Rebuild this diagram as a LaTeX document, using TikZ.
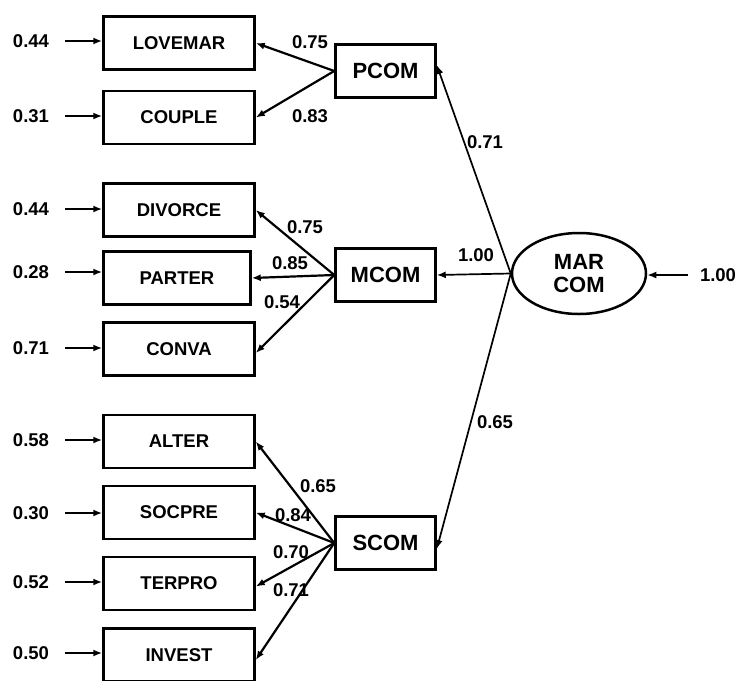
\documentclass[tikz,border=0pt]{standalone}
\usepackage{fontspec}
\setmainfont{Liberation Sans}
\usetikzlibrary{arrows.meta,shapes.geometric}
\begin{document}
\begin{tikzpicture}[x=1pt,y=-1pt,
  ind/.style={draw, line width=2.5pt, minimum width=151pt, minimum height=53pt, font=\fontsize{18.5}{20}\selectfont\bfseries, inner sep=0},
  lat/.style={draw, line width=2.5pt, minimum width=100pt, minimum height=53pt, font=\fontsize{22}{24}\selectfont\bfseries, inner sep=0},
  num/.style={font=\fontsize{18.5}{20}\selectfont\bfseries, inner sep=0},
  arr/.style={-{Latex[length=9pt,width=7pt]}, line width=2.2pt},
  arrthin/.style={-{Latex[length=9pt,width=7pt]}, line width=1.7pt}]
\useasboundingbox (0,0) rectangle (738,680);

% indicator boxes
\node[ind] (LOVEMAR) at (179,43) {LOVEMAR};
\node[ind] (COUPLE) at (179,117.5) {COUPLE};
\node[ind] (DIVORCE) at (179,210) {DIVORCE};
\node[ind, minimum width=147pt] (PARTER) at (177,278) {PARTER};
\node[ind] (CONVA) at (179,349) {CONVA};
\node[ind] (ALTER) at (179,441.5) {ALTER};
\node[ind] (SOCPRE) at (179,512.5) {SOCPRE};
\node[ind] (TERPRO) at (179,583.5) {TERPRO};
\node[ind] (INVEST) at (179,655) {INVEST};

% latent boxes
\node[lat] (PCOM) at (385.5,71) {PCOM};
\node[lat] (MCOM) at (385.5,275) {MCOM};
\node[lat] (SCOM) at (385.5,543) {SCOM};

% second-order latent
\node[draw, ellipse, line width=2.5pt, minimum width=134pt, minimum height=81pt, inner sep=0,
  align=center, font=\fontsize{22}{23}\selectfont\bfseries] (MARCOM) at (579,273.5) {MAR\\COM};

% residual labels and arrows
\foreach \n/\v/\y in {LOVEMAR/0.44/41, COUPLE/0.31/116, DIVORCE/0.44/209, PARTER/0.28/272,
  CONVA/0.71/348, ALTER/0.58/440, SOCPRE/0.30/513, TERPRO/0.52/582, INVEST/0.50/653}{
  \node[num] (r\n) at (31,\y) {\v};
  \coordinate (e\n) at (65,\y);
  \draw[arr] (e\n) -- (\n.west |- e\n);
}

% loadings PCOM
\draw[arr] (PCOM.west) -- (LOVEMAR.east);
\draw[arr] (PCOM.west) -- (COUPLE.east);
\node[num] (l1) at (310,42) {0.75};
\node[num] (l2) at (310,116) {0.83};

% loadings MCOM
\draw[arr] (MCOM.west) -- (DIVORCE.east);
\draw[arr] (MCOM.west) -- (PARTER.east);
\draw[arr] (MCOM.west) -- ([yshift=-4pt]CONVA.east);
\node[num] (l3) at (305,227) {0.75};
\node[num] (l4) at (290,263) {0.85};
\node[num] (l5) at (282,302) {0.54};

% loadings SCOM
\draw[arr] (SCOM.west) -- (ALTER.east);
\draw[arr] (SCOM.west) -- (SOCPRE.east);
\draw[arr] (SCOM.west) -- ([yshift=-3pt]TERPRO.east);
\draw[arr] (SCOM.west) -- ([yshift=-5pt]INVEST.east);
\node[num] (l6) at (318,486) {0.65};
\node[num] (l7) at (293,515) {0.84};
\node[num] (l8) at (291,552) {0.70};
\node[num] (l9) at (291,590) {0.71};

% second-order loadings
\draw[arrthin] (MARCOM.west) -- ([yshift=6pt]PCOM.east);
\draw[arrthin] (MARCOM.west) -- (MCOM.east);
\draw[arrthin] (MARCOM.west) -- ([yshift=-6pt]SCOM.east);
\node[num] (l10) at (485,142) {0.71};
\node[num] (l11) at (476,255) {1.00};
\node[num] (l12) at (495,422) {0.65};

% disturbance
\coordinate (eM) at (688,275);
\draw[arrthin] (eM) -- (MARCOM.east |- eM);
\node[num] (rM) at (718,275) {1.00};
\end{tikzpicture}
\end{document}
